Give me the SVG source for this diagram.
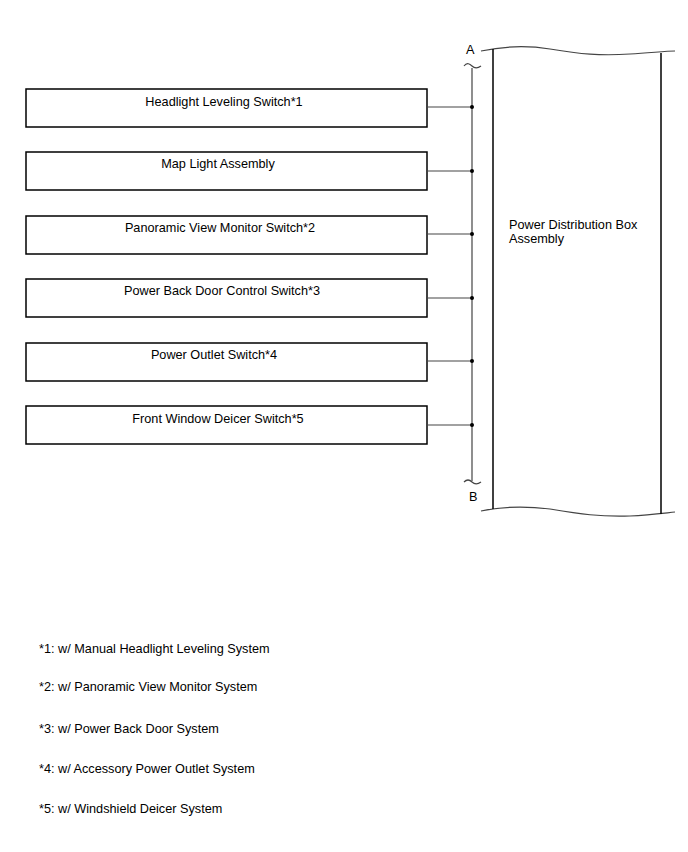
<svg xmlns="http://www.w3.org/2000/svg" width="688" height="852" viewBox="0 0 688 852">
<style>
.box{fill:#fff;stroke:#000;stroke-width:1.5}
.t{font-family:"Liberation Sans",Arial,sans-serif;font-size:12.7px;fill:#000}
.c{text-anchor:middle}
.w{fill:none;stroke:#444;stroke-width:1.2}
.l{fill:none;stroke:#000;stroke-width:1.5}
</style>
<rect width="688" height="852" fill="#fff"/>
<g id="pdb">
<path class="w" d="M481 51 C500 47 525 45 550 49 C580 54 600 56 630 54 C650 53 665 51 675 51"/>
<path class="w" d="M481 511 C500 507 525 506 550 509 C580 514 600 517 630 516 C650 515 665 513 675 512"/>
<line class="l" x1="493" y1="49" x2="493" y2="509"/>
<line class="l" x1="661" y1="53" x2="661" y2="514"/>
<text class="t" x="509" y="229">Power Distribution Box</text>
<text class="t" x="509" y="243">Assembly</text>
</g>
<g id="n1"><rect class="box" x="26" y="89" width="401" height="38"/><text class="t c" x="224" y="106">Headlight Leveling Switch*1</text></g>
<g id="n2"><rect class="box" x="26" y="152" width="401" height="38"/><text class="t c" x="218" y="168">Map Light Assembly</text></g>
<g id="n3"><rect class="box" x="26" y="216" width="401" height="38"/><text class="t c" x="220" y="232">Panoramic View Monitor Switch*2</text></g>
<g id="n4"><rect class="box" x="26" y="279" width="401" height="38"/><text class="t c" x="222" y="295">Power Back Door Control Switch*3</text></g>
<g id="n5"><rect class="box" x="26" y="343" width="401" height="38"/><text class="t c" x="214" y="359">Power Outlet Switch*4</text></g>
<g id="n6"><rect class="box" x="26" y="406" width="401" height="38"/><text class="t c" x="218" y="423">Front Window Deicer Switch*5</text></g>
<g id="connectors">
<text class="t" x="466" y="54">A</text>
<text class="t" x="469" y="501">B</text>
<path class="w" d="M464 66 C467 62 470 64 472 66 C474 68 477 69 481 66"/>
<path class="w" d="M464 482 C467 479 470 480 472 482 C474 484 477 485 481 482"/>
<line x1="472" y1="68" x2="472" y2="481" stroke="#444" stroke-width="1.2"/>
<g stroke="#444" stroke-width="1.2">
<line x1="427" y1="107" x2="472" y2="107"/>
<line x1="427" y1="171" x2="472" y2="171"/>
<line x1="427" y1="234" x2="472" y2="234"/>
<line x1="427" y1="298" x2="472" y2="298"/>
<line x1="427" y1="361" x2="472" y2="361"/>
<line x1="427" y1="425" x2="472" y2="425"/>
</g>
<g fill="#000">
<circle cx="472" cy="107" r="2"/><circle cx="472" cy="171" r="2"/><circle cx="472" cy="234" r="2"/>
<circle cx="472" cy="298" r="2"/><circle cx="472" cy="361" r="2"/><circle cx="472" cy="425" r="2"/>
</g>
</g>
<g id="notes">
<text class="t" x="39" y="653">*1: w/ Manual Headlight Leveling System</text>
<text class="t" x="39" y="691">*2: w/ Panoramic View Monitor System</text>
<text class="t" x="39" y="733">*3: w/ Power Back Door System</text>
<text class="t" x="39" y="773">*4: w/ Accessory Power Outlet System</text>
<text class="t" x="39" y="813">*5: w/ Windshield Deicer System</text>
</g>
</svg>
